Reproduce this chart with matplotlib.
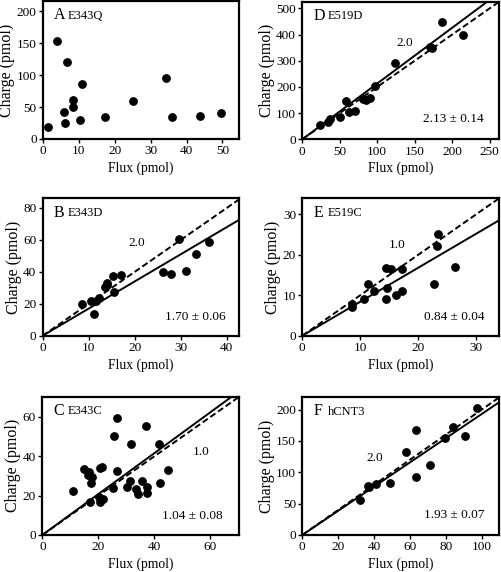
import matplotlib
matplotlib.use("Agg")
import matplotlib.pyplot as plt
import numpy as np

plt.rcParams['font.family'] = ['Liberation Serif', 'DejaVu Serif']

# ---- data ----
a_x = [1.4, 3.8, 5.8, 6.2, 6.6, 8.4, 8.3, 10.3, 10.8, 17.2, 25.0, 34.4, 35.9, 43.8, 49.5]
a_y = [18.8, 154, 41.7, 25, 121, 61, 50.5, 30, 86, 34, 59.4, 95, 34.4, 35.4, 41]

b_x = [8.6, 10.5, 11.2, 11.5, 12.3, 13.6, 13.9, 13.9, 15.2, 15.4, 17.1, 26.2, 27.8, 29.5, 31.1, 33.2, 36.1]
b_y = [19.6, 21.9, 13.9, 21.7, 23.8, 30.3, 33.3, 31.6, 37.5, 27.2, 37.9, 39.8, 38.7, 60.4, 40.6, 50.9, 58.7]

c_x = [11.1, 15.0, 16.8, 16.4, 17.3, 17.6, 17.0, 20.6, 21.2, 20.4, 20.6, 21.8, 25.4, 25.7, 26.5, 26.7,
       30.1, 31.3, 31.7, 33.3, 34.3, 35.5, 37.0, 37.5, 37.5, 41.7, 42.1, 45.0]
c_y = [22.2, 33.4, 32.2, 30.5, 26.3, 29.7, 17.0, 33.9, 34.7, 19.5, 16.8, 18.3, 24.1, 50.5, 59.7, 32.7,
       24.6, 27.5, 46.1, 23.2, 20.7, 27.6, 55.3, 24.2, 21.2, 46.4, 26.3, 33.0]

d_x = [23.2, 34.4, 36.6, 50, 59, 62, 70, 81, 85.7, 90, 97, 124, 170, 173, 186, 214]
d_y = [56, 67.5, 79, 86.6, 146, 104, 109.6, 153, 150, 159, 202, 290, 354, 350, 447, 399]

e_x = [8.5, 8.6, 10.6, 11.4, 12.4, 14.5, 14.6, 14.5, 15.4, 16.2, 17.2, 17.2, 22.8, 23.2, 23.5, 26.3]
e_y = [7.2, 7.8, 9.1, 12.9, 11.1, 16.7, 11.9, 9.0, 16.5, 10.0, 16.4, 11.0, 12.8, 22.2, 25.2, 17.0]

f_x = [32.3, 36.4, 37.3, 41, 48.8, 57.7, 63.3, 63.3, 71.2, 79.6, 84.2, 90.7, 97.2]
f_y = [56, 77.3, 76.3, 81, 83.2, 133, 168, 92.3, 111.5, 155, 172, 158.4, 202.7]

letters = ['A', 'B', 'C', 'D', 'E', 'F']
names = ['E343Q', 'E343D', 'E343C', 'E519D', 'E519C', 'hCNT3']
fit_slopes = [None, 1.70, 1.04, 2.13, 0.84, 1.93]
fit_labels = [None, '1.70 ± 0.06', '1.04 ± 0.08', '2.13 ± 0.14', '0.84 ± 0.04', '1.93 ± 0.07']
ref_slopes = [None, 2.0, 1.0, 2.0, 1.0, 2.0]
ref_labels = [None, '2.0', '1.0', '2.0', '1.0', '2.0']
xlims = [54.6, 42.7, 70.2, 263, 34, 109.6]
ylims = [216, 86, 70.3, 526, 34, 220]
xticks = [np.arange(0, 51, 10), np.arange(0, 41, 10), np.arange(0, 61, 20),
          np.arange(0, 251, 50), np.arange(0, 31, 10), np.arange(0, 101, 20)]
yticks = [np.arange(0, 201, 50), np.arange(0, 81, 20), np.arange(0, 61, 20),
          np.arange(0, 501, 100), np.arange(0, 31, 10), np.arange(0, 201, 50)]
xs = [a_x, b_x, c_x, d_x, e_x, f_x]
ys = [a_y, b_y, c_y, d_y, e_y, f_y]

# layout
positions = [
    [0.0857, 0.757, 0.3904, 0.2413],
    [0.0850, 0.4131, 0.3917, 0.2402],
    [0.0843, 0.0647, 0.3918, 0.2418],
    [0.6022, 0.7565, 0.3924, 0.2406],
    [0.6022, 0.4131, 0.3920, 0.2402],
    [0.6022, 0.0647, 0.3920, 0.2413],
]
ref_pos = [None, (0.478, 0.672), (0.81, 0.60), (0.518, 0.70), (0.48, 0.66), (0.37, 0.556)]
fit_pos = [None, (0.775, 0.134), (0.765, 0.137), (0.768, 0.15), (0.773, 0.134), (0.77, 0.145)]

fig = plt.figure(figsize=(5.02, 5.72), dpi=100)
for i in range(6):
    ax = fig.add_axes(positions[i])
    xm, ym = xlims[i], ylims[i]
    if ref_slopes[i] is not None:
        xx = np.array([0, xm])
        ax.plot(xx, fit_slopes[i] * xx, color='black', lw=1.4, solid_capstyle='butt', zorder=2)
        ax.plot(xx, ref_slopes[i] * xx, color='black', lw=1.4, ls=(0, (3.2, 1.6)), zorder=2)
    ax.plot(xs[i], ys[i], 'o', color='black', markersize=5.3, zorder=3, clip_on=False)
    ax.set_xlim(0, xm)
    ax.set_ylim(0, ym)
    ax.set_xticks(xticks[i])
    ax.set_yticks(yticks[i])
    ax.tick_params(direction='out', length=3, width=1, labelsize=9.5, pad=1.5)
    for s in ax.spines.values():
        s.set_linewidth(1.6)
    ax.set_xlabel('Flux (pmol)', fontsize=9.8, labelpad=3)
    ax.set_ylabel('Charge (pmol)', fontsize=11.5, labelpad=1)
    ax.text(0.055, 0.895, letters[i], transform=ax.transAxes, fontsize=11.5, va='center', ha='left')
    ax.text(0.128, 0.893, names[i], transform=ax.transAxes, fontsize=9, va='center', ha='left')
    if ref_labels[i] is not None:
        ax.text(ref_pos[i][0], ref_pos[i][1], ref_labels[i], transform=ax.transAxes,
                fontsize=9.5, va='center', ha='center')
        ax.text(fit_pos[i][0], fit_pos[i][1], fit_labels[i], transform=ax.transAxes,
                fontsize=9.5, va='center', ha='center')

fig.savefig('out.png', dpi=100)
